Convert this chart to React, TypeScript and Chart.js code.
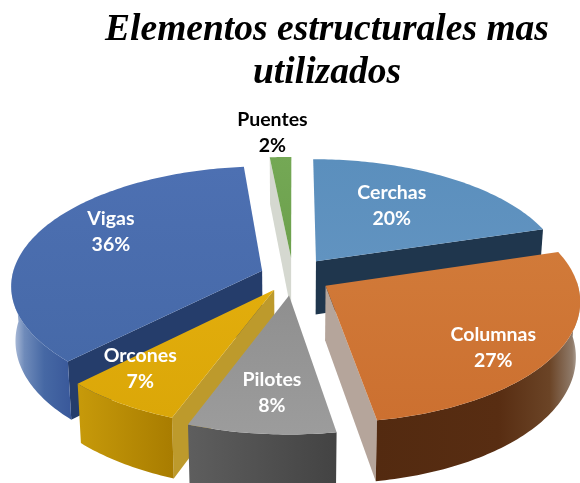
import React, { useEffect, useRef } from "react";
import { Chart, registerables } from "chart.js";

Chart.register(...registerables);

// Data
const categories = ["Cerchas", "Columnas", "Pilotes", "Orcones", "Vigas", "Puentes"];
const shares = [20.4, 26.9, 8.49, 6.78, 35.83, 1.6];
const explode = [39, 38, 40, 34, 33, 38];
const titleLines = ["Elementos estructurales mas", "utilizados"];

// Styles
const topColors = [
  ["#5b8fbd", "#6193c0"],
  ["#d17a39", "#cc7030"],
  ["#8f8f8f", "#9c9c9c"],
  ["#e2ad0c", "#dba708"],
  ["#4d70b2", "#4669a8"],
  ["#74a855", "#6ca04c"],
];
const wallStops: [number, string][][] = [
  [[0, "#1f364d"], [1, "#1f364d"]],
  [[0, "#532a10"], [0.6, "#582d12"], [0.85, "#6b4426"], [0.96, "#8f7a69"], [1, "#c4bcb4"]],
  [[0, "#5e5e5e"], [1, "#434343"]],
  [[0, "#c79a0a"], [1, "#a87c00"]],
  [[0, "#c0cce2"], [0.22, "#6f8bba"], [0.55, "#4668a4"], [1, "#39589a"]],
  [[0, "#5c8c42"], [1, "#5c8c42"]],
];
const cutColors = ["#1f364d", "#b5a59b", "#777777", "#bd9a2c", "#253d6b", "#d5d8d0"];
const paintOrder = [5, 0, 4, 1, 3, 2];
const labelNudge = [[-6, -3], [33, 22], [-1, 18], [-45, 13], [-15, -15], [-12, -61]];
const labelColors = ["#ffffff", "#ffffff", "#ffffff", "#ffffff", "#ffffff", "#000000"];

const VIEW = { cx: 293, cy: 276, radius: 250, tilt: 0.48, persp: 0.12, depth: 54, narrow: 0.00028 };

const project = (X: number, Y: number, z = 0) => {
  const s = 1 + (VIEW.persp * Y) / VIEW.radius;
  return { x: VIEW.cx + X * s * (1 - z * VIEW.narrow), y: VIEW.cy + Y * VIEW.tilt * s + z * s };
};

const poly = (ctx: CanvasRenderingContext2D, pts: { x: number; y: number }[], fill: any) => {
  ctx.beginPath();
  pts.forEach((p, i) => (i ? ctx.lineTo(p.x, p.y) : ctx.moveTo(p.x, p.y)));
  ctx.closePath();
  ctx.fillStyle = fill;
  ctx.fill();
};

const pie3d = {
  id: "pie3d",
  beforeDatasetsDraw(chart: any) {
    const ctx: CanvasRenderingContext2D = chart.ctx;
    const meta = chart.getDatasetMeta(0);
    const D = VIEW.depth;
    const geo = meta.data.map((el: any, i: number) => {
      const { startAngle, endAngle } = el.getProps(["startAngle", "endAngle"], true);
      const mid = (startAngle + endAngle) / 2;
      const off = el.options.offset;
      return { a0: startAngle, a1: endAngle, mid, ax: off * Math.cos(mid), ay: off * Math.sin(mid), i };
    });
    const R = VIEW.radius;
    ctx.save();
    paintOrder.forEach((i) => {
      const g = geo[i];
      const steps = Math.max(8, Math.ceil(((g.a1 - g.a0) * 180) / Math.PI));
      const world: [number, number, number][] = [];
      for (let k = 0; k <= steps; k++) {
        const a = g.a0 + ((g.a1 - g.a0) * k) / steps;
        world.push([g.ax + R * Math.cos(a), g.ay + R * Math.sin(a), a]);
      }
      const rimTop = world.map(([x, y]) => project(x, y));
      const rimBot = world.map(([x, y]) => project(x, y, D));
      const apexTop = project(g.ax, g.ay);
      const apexBot = project(g.ax, g.ay, D);
      const last = world.length - 1;
      // radial cut faces turned towards the viewer
      if (Math.cos(g.a0) < 0) poly(ctx, [apexTop, rimTop[0], rimBot[0], apexBot], cutColors[i]);
      if (Math.cos(g.a1) > 0) poly(ctx, [apexTop, rimTop[last], rimBot[last], apexBot], cutColors[i]);
      // front part of the outer wall
      const front = world.map((w, k) => k).filter((k) => Math.sin(world[k][2]) > -0.03);
      if (front.length > 1) {
        const wt = front.map((k) => rimTop[k]);
        const wb = front.map((k) => rimBot[k]);
        const xs = wt.concat(wb).map((p) => p.x);
        const wall = ctx.createLinearGradient(Math.min(...xs), 0, Math.max(...xs), 0);
        wallStops[i].forEach(([o, c]) => wall.addColorStop(o, c));
        poly(ctx, [...wt, ...wb.slice().reverse()], wall);
      }
      // top face
      const ys = rimTop.map((p) => p.y).concat(apexTop.y);
      const top = ctx.createLinearGradient(0, Math.min(...ys), 0, Math.max(...ys));
      top.addColorStop(0, topColors[i][0]);
      top.addColorStop(1, topColors[i][1]);
      poly(ctx, [apexTop, ...rimTop], top);
    });
    // data labels
    const total = shares.reduce((a, b) => a + b, 0);
    ctx.font = "bold 19.5px Lato";
    ctx.textAlign = "center";
    ctx.textBaseline = "middle";
    geo.forEach((g: any, i: number) => {
      const p = project(g.ax + 0.6 * R * Math.cos(g.mid), g.ay + 0.6 * R * Math.sin(g.mid));
      const x = p.x + labelNudge[i][0];
      const y = p.y + labelNudge[i][1];
      ctx.fillStyle = labelColors[i];
      ctx.fillText(categories[i], x, y - 13);
      ctx.fillText(`${Math.round((shares[i] / total) * 100)}%`, x, y + 13);
    });
    ctx.restore();
    return false;
  },
};

export default function App() {
  const ref = useRef<HTMLCanvasElement>(null);
  useEffect(() => {
    const chart = new Chart(ref.current as HTMLCanvasElement, {
      type: "pie",
      data: {
        labels: categories,
        datasets: [{ data: shares, offset: explode, borderWidth: 0, backgroundColor: topColors.map((c) => c[0]) }],
      },
      options: {
        animation: false,
        responsive: false,
        layout: { padding: { left: 74 } },
        plugins: {
          legend: { display: false },
          tooltip: { enabled: false },
          title: {
            display: true,
            text: titleLines,
            color: "#000000",
            font: { family: "'Liberation Serif'", size: 37.5, weight: "bold", style: "italic", lineHeight: 1.15 },
            padding: { top: 9, bottom: 10 },
          },
        },
      },
      plugins: [pie3d],
    } as any);
    return () => chart.destroy();
  }, []);
  return (
    <div style={{ position: "absolute", left: 0, top: 0, width: 580, height: 483, background: "#ffffff" }}>
      <canvas ref={ref} width={580} height={483} style={{ display: "block" }} />
    </div>
  );
}
